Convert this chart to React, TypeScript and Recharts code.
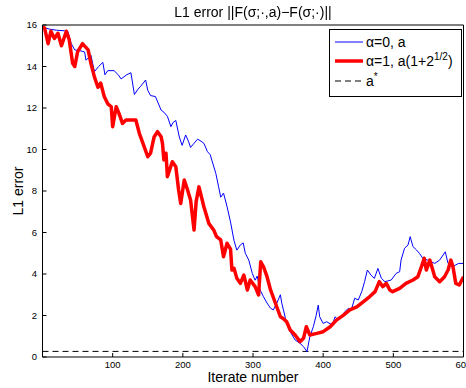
import React from 'react';
import { LineChart, Line, XAxis, YAxis, ReferenceLine, Label } from 'recharts';

// [iterate, L1 error]
const blueSeries: number[][] = [
  [0,15.9],[10,15.8],[20,15.75],[31,15.72],[36,15.7],[41,15.1],[46,14.8],[55,14.75],[60,14.7],[62,14.3],
  [69,14.55],[74,13.75],[80,14.0],[86,14.2],[89,13.6],[93,13.8],[102,13.8],[108,13.6],[112,13.4],[120,13.6],
  [126,13.7],[131,12.65],[136,12.9],[140,13.05],[147,13.35],[150,12.85],[154,12.6],[161,12.55],[169,11.9],[173,11.8],
  [178,11.6],[183,11.1],[186,11.3],[190,11.4],[195,10.6],[199,10.2],[204,10.7],[208,10.4],[211,10.1],[216,10.3],
  [221,10.5],[226,10.4],[230,10.3],[235,9.9],[239,9.75],[243,9.3],[247,8.85],[251,8.2],[254,7.7],[258,7.9],
  [263,7.25],[268,6.5],[273,5.6],[277,5.15],[282,5.4],[286,5.5],[289,5.0],[294,4.67],[299,4.03],[303,3.7],
  [306,3.9],[310,3.23],[315,2.9],[320,2.6],[325,2.35],[329,2.27],[334,2.6],[339,3.0],[341,2.6],[346,1.9],
  [348,1.62],[353,1.22],[360,0.82],[367,0.66],[372,0.5],[377,0.26],[381,0.98],[386,1.46],[390,2.0],[393,2.5],
  [395,1.94],[400,1.62],[405,1.7],[410,1.6],[414,1.62],[417,1.94],[421,1.78],[431,2.18],[436,2.35],[440,2.27],
  [445,2.83],[450,2.75],[455,3.15],[459,3.63],[463,4.19],[468,3.95],[473,3.79],[478,4.27],[483,3.79],[488,3.63],
  [497,3.71],[504,4.03],[509,4.11],[511,4.67],[516,5.24],[521,5.4],[524,5.8],[528,5.32],[533,5.16],[537,5.0],
  [542,4.76],[549,4.67],[559,4.51],[566,4.67],[574,5.07],[578,4.51],[584,4.35],[593,4.51],[600,4.51],
];

const redSeries: number[][] = [
  [0,15.9],[3,15.85],[8,15.1],[12,15.7],[17,15.35],[22,15.6],[27,15.0],[34,15.7],[38,15.3],[43,14.15],
  [46,14.0],[50,14.7],[57,15.1],[65,14.8],[69,14.15],[74,13.5],[79,13.0],[83,13.2],[88,12.55],[93,12.2],
  [98,12.06],[100,11.1],[105,12.06],[109,11.74],[114,11.26],[119,11.42],[126,11.42],[133,11.42],[138,10.78],[145,10.13],
  [150,9.65],[154,9.82],[159,10.6],[164,10.86],[169,10.62],[171,10.3],[173,9.5],[176,9.82],[178,8.69],[185,9.41],
  [190,9.17],[194,8.05],[197,7.4],[202,8.53],[206,8.13],[211,7.57],[216,6.12],[219,7.5],[223,8.2],[230,7.24],
  [237,6.44],[244,6.12],[248,5.8],[254,5.64],[258,4.83],[263,5.48],[268,5.2],[270,4.19],[273,4.27],[277,3.79],
  [282,3.55],[287,3.95],[292,3.23],[296,3.71],[303,3.39],[308,2.99],[311,4.59],[315,4.35],[320,3.87],[325,3.23],
  [332,2.59],[339,1.94],[343,1.86],[348,1.7],[353,1.3],[360,1.06],[367,0.74],[372,0.9],[376,1.46],[381,1.06],
  [391,1.14],[400,1.22],[410,1.46],[419,1.78],[429,2.02],[438,2.27],[448,2.42],[457,2.66],[466,2.9],[474,3.15],
  [480,3.63],[485,3.39],[490,3.55],[495,3.23],[499,3.15],[509,3.31],[518,3.55],[528,3.71],[535,3.87],[540,4.35],
  [544,4.76],[547,4.19],[552,4.67],[559,3.87],[566,3.63],[573,3.87],[578,4.19],[582,4.67],[585,4.35],[589,3.55],
  [594,3.47],[600,3.87],
];

const aStar = 0.27;
const xTicks = [100, 200, 300, 400, 500, 600];
const yTicks = [0, 2, 4, 6, 8, 10, 12, 14, 16];
const titleText = 'L1 error ||F(σ;·,a)−F(σ;·)||';
const xLabelText = 'Iterate number';
const yLabelText = 'L1 error';

const blueData = blueSeries.map(([x, v]) => ({ x, v }));
const redData = redSeries.map(([x, v]) => ({ x, v }));

const FONT = '"Liberation Sans", Arial, Helvetica, sans-serif';
const tickStyle = { fontSize: 9.5, fill: '#000', fontFamily: FONT };

const XLabel = () => (
  <text x={253} y={382} textAnchor="middle" fontSize={14} fontFamily={FONT} fill="#000">{xLabelText}</text>
);
const YLabel = () => (
  <text x={23} y={191} textAnchor="middle" fontSize={14} fontFamily={FONT} fill="#000" transform="rotate(-90 23 191)">{yLabelText}</text>
);

export default function App() {
  return (
    <div style={{ position: 'fixed', left: 0, top: 0, width: 466, height: 388, background: '#fff', fontFamily: FONT }}>
      <LineChart width={466} height={388} data={blueData} margin={{ top: 24, right: 1.5, bottom: 0, left: 0 }}>
        <XAxis dataKey="x" type="number" domain={[0, 600]} ticks={xTicks} allowDataOverflow
          height={31} tickSize={-4} tickMargin={8} stroke="#000" tick={tickStyle} interval={0}>
          <Label content={XLabel} />
        </XAxis>
        <XAxis xAxisId="top" orientation="top" type="number" domain={[0, 600]} ticks={xTicks} allowDataOverflow
          height={1} tickSize={-4} stroke="#000" tick={false} />
        <YAxis type="number" domain={[0, 16]} ticks={yTicks} allowDataOverflow width={42.5}
          tickSize={-4} tickMargin={9.5} stroke="#000" tick={tickStyle} interval={0}>
          <Label content={YLabel} />
        </YAxis>
        <YAxis yAxisId="right" orientation="right" type="number" domain={[0, 16]} ticks={yTicks} allowDataOverflow width={1}
          tickSize={-4} stroke="#000" tick={false} />
        <ReferenceLine y={aStar} stroke="#000" strokeWidth={1} strokeDasharray="6 4" />
        <Line data={blueData} dataKey="v" type="linear" stroke="#0000ff" strokeWidth={1} dot={false} isAnimationActive={false} />
        <Line data={redData} dataKey="v" type="linear" stroke="#ff0000" strokeWidth={3.5} dot={false} isAnimationActive={false} strokeLinejoin="round" />
      </LineChart>
      <div style={{ position: 'absolute', left: 0, top: 4, width: 506, textAlign: 'center', fontSize: 14, lineHeight: '17px', color: '#000' }}>
        {titleText}
      </div>
      <div style={{ position: 'absolute', left: 329, top: 29, width: 133, height: 68, boxSizing: 'border-box', border: '1px solid #000', background: '#fff' }}>
        <svg width={131} height={66} style={{ display: 'block' }}>
          <line x1={5} x2={33} y1={12} y2={12} stroke="#0000ff" strokeWidth={1} />
          <text x={36} y={17} fontSize={14} fontFamily={FONT} fill="#000">α=0, a</text>
          <line x1={5} x2={33} y1={31} y2={31} stroke="#ff0000" strokeWidth={3.5} />
          <text x={36} y={36} fontSize={14} fontFamily={FONT} fill="#000">α=1, a(1+2<tspan dy={-6} fontSize={10}>1/2</tspan><tspan dy={6}>)</tspan></text>
          <line x1={5} x2={33} y1={51} y2={51} stroke="#000" strokeWidth={1} strokeDasharray="6 4" />
          <text x={36} y={56} fontSize={14} fontFamily={FONT} fill="#000">a<tspan dy={-6} fontSize={10}>*</tspan></text>
        </svg>
      </div>
    </div>
  );
}
